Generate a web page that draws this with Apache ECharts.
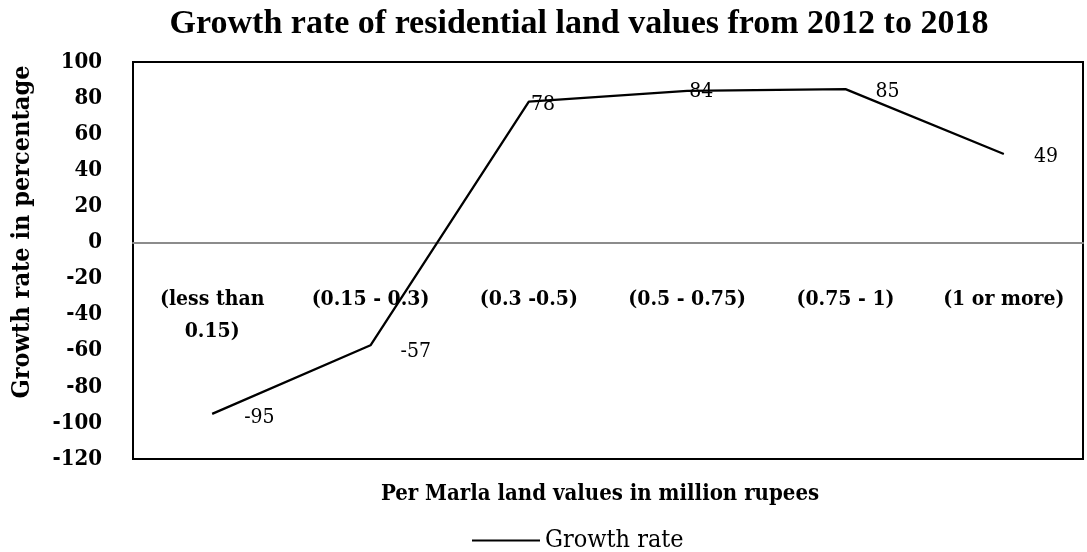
<!DOCTYPE html>
<html><head><meta charset="utf-8">
<script src="https://cdn.jsdelivr.net/npm/echarts@6/dist/echarts.min.js"></script>
<style>html,body{margin:0;padding:0;background:#fff}#c{width:1087px;height:552px}</style>
</head><body><div id="c"></div>
<script>
const categories = ['(less than\n0.15)', '(0.15 - 0.3)', '(0.3 -0.5)', '(0.5 - 0.75)', '(0.75 - 1)', '(1 or more)'];
const growthRate = [-95, -57, 78, 84, 85, 49];
const yTicks = {min: -120, max: 100, interval: 20};
const labelOffsets = [[30, 4], [28, 6], [0, 3], [0, 1], [28, 2], [28, 3]];

const serif = '"Liberation Serif", "DejaVu Serif", serif';
const cond = '"DejaVu Serif Condensed", "DejaVu Serif", serif';
const chart = echarts.init(document.getElementById('c'));
chart.setOption({
  animation: false,
  title: {
    text: 'Growth rate of residential land values from 2012 to 2018',
    left: 574, top: 2, textAlign: 'center',
    textStyle: {fontFamily: serif, fontWeight: 'bold', fontSize: 34, color: '#000'}
  },
  grid: {left: 133, right: 4, top: 62, bottom: 93, show: true, borderColor: '#000', borderWidth: 2,
         backgroundColor: 'transparent', containLabel: false, outerBoundsMode: 'none'},
  legend: {
    data: ['Growth rate'], left: 467, top: 523,
    itemWidth: 68, itemHeight: 14, itemGap: 6, icon: 'path://M0,6 L68,6 L68,8 L0,8 Z',
    textStyle: {fontFamily: cond, fontSize: 25, color: '#000'}
  },
  xAxis: {
    type: 'category', data: categories, boundaryGap: true,
    name: 'Per Marla land values in million rupees', nameLocation: 'middle', nameGap: 24,
    nameTextStyle: {fontFamily: cond, fontWeight: 'bold', fontSize: 22, color: '#000', padding: [0, 16, 0, 0]},
    axisLine: {onZero: true, lineStyle: {color: '#8c8c8c', width: 2}},
    axisTick: {show: false},
    axisLabel: {margin: -175, interval: 0, fontFamily: cond, fontWeight: 'bold', fontSize: 21, color: '#000', lineHeight: 32},
    splitLine: {show: false}
  },
  yAxis: {
    type: 'value', min: yTicks.min, max: yTicks.max, interval: yTicks.interval,
    axisLine: {show: false}, axisTick: {show: false}, splitLine: {show: false},
    axisLabel: {margin: 31, fontFamily: cond, fontWeight: 'bold', fontSize: 22, color: '#000'}
  },
  graphic: [{
    type: 'text', x: 22, y: 232, rotation: Math.PI / 2,
    style: {text: 'Growth rate in percentage', fontFamily: cond, fontWeight: 'bold', fontSize: 25, fill: '#000', align: 'center', verticalAlign: 'middle'}
  }],
  series: [{
    name: 'Growth rate', type: 'line', showSymbol: true, symbol: 'circle', symbolSize: 0.1,
    lineStyle: {color: '#000', width: 2.3}, itemStyle: {color: '#000'},
    data: growthRate.map((v, i) => ({value: v, label: {offset: labelOffsets[i]}})),
    label: {show: true, position: 'right', distance: 2, fontFamily: cond, fontSize: 21, color: '#000'}
  }]
});
</script></body></html>
